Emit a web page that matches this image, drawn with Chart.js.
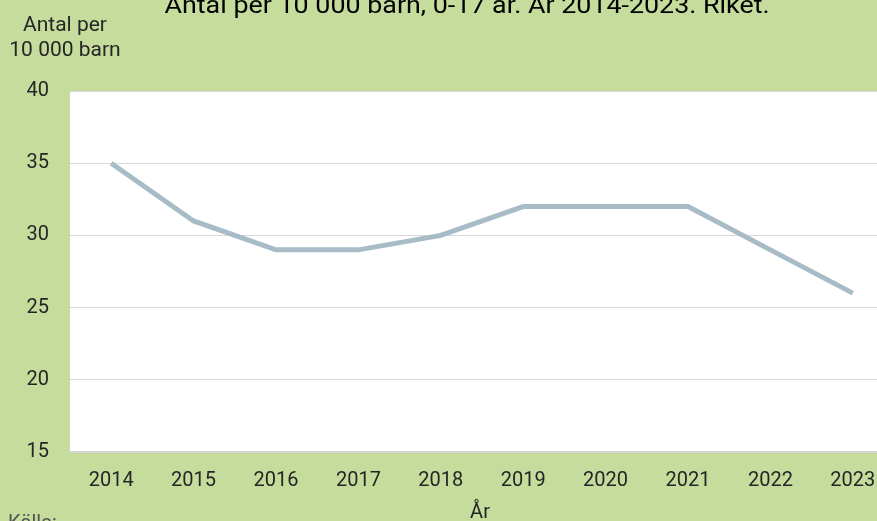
<!DOCTYPE html>
<html>
<head>
<meta charset="utf-8">
<script src="https://cdn.jsdelivr.net/npm/chart.js@4.4.1/dist/chart.umd.min.js"></script>
<style>
  html, body { margin: 0; padding: 0; overflow: hidden; background: #c5dc9c; }
  #wrap { position: absolute; left: 0; top: 0; width: 934px; height: 521px; }
</style>
</head>
<body>
<div id="wrap"><canvas id="c" width="934" height="521"></canvas></div>
<script>
const categories = ['2014','2015','2016','2017','2018','2019','2020','2021','2022','2023'];
const values = [35, 31, 29, 29, 30, 32, 32, 32, 29, 26];
const yTicks = [15, 20, 25, 30, 35, 40];
const titleText = 'Antal per 10 000 barn, 0-17 år. År 2014-2023. Riket.';
const yTitleLines = ['Antal per', '10 000 barn'];
const xTitleText = 'År';
const sourceText = 'Källa:';

const FONT = 'Roboto, "Noto Sans", sans-serif';

const decor = {
  id: 'decor',
  beforeDraw(chart) {
    const { ctx, chartArea: a } = chart;
    ctx.save();
    ctx.fillStyle = '#ffffff';
    ctx.fillRect(a.left, a.top, a.right - a.left, a.bottom - a.top);
    ctx.restore();
  },
  afterDraw(chart) {
    const { ctx } = chart;
    ctx.save();
    ctx.fillStyle = '#000000';
    ctx.font = '23px ' + FONT;
    ctx.textBaseline = 'alphabetic';
    const w = ctx.measureText(titleText).width;
    const sx = 605 / w;
    ctx.translate(467, 13);
    ctx.scale(sx, 1);
    ctx.textAlign = 'center';
    ctx.fillText(titleText, 0, 0);
    ctx.restore();

    ctx.save();
    ctx.fillStyle = '#262626';
    ctx.font = '21px ' + FONT;
    ctx.textAlign = 'center';
    ctx.textBaseline = 'alphabetic';
    ctx.fillText(yTitleLines[0], 65, 31);
    ctx.fillText(yTitleLines[1], 65, 56);
    ctx.font = '20px ' + FONT;
    ctx.fillText(xTitleText, 480, 518);
    ctx.textAlign = 'left';
    ctx.fillStyle = '#555555';
    ctx.fillText(sourceText, 8, 529);
    ctx.restore();
  }
};

new Chart(document.getElementById('c'), {
  type: 'line',
  data: {
    labels: categories,
    datasets: [{
      data: values,
      borderColor: '#a7bcc6',
      borderWidth: 5,
      pointRadius: 0,
      pointHoverRadius: 0,
      tension: 0,
      fill: false
    }]
  },
  options: {
    responsive: false,
    animation: false,
    devicePixelRatio: 1,
    layout: { padding: { top: 91, right: 40, bottom: 0, left: 0 } },
    plugins: { legend: { display: false }, title: { display: false }, tooltip: { enabled: false } },
    scales: {
      x: {
        offset: true,
        afterFit(s) { s.height = 69; },
        grid: { display: false, drawTicks: false },
        border: { display: true, color: '#d4d4d4', width: 2 },
        ticks: { color: '#262626', font: { family: FONT, size: 20 }, padding: 17, maxRotation: 0, autoSkip: false }
      },
      y: {
        min: 15,
        max: 40,
        afterFit(s) { s.width = 70; },
        afterBuildTicks(s) { s.ticks = yTicks.map(v => ({ value: v })); },
        grid: { color: '#d9d9d9', lineWidth: 1, drawTicks: false },
        border: { display: false },
        ticks: { color: '#262626', font: { family: FONT, size: 20 }, padding: 21 }
      }
    }
  },
  plugins: [decor]
});
</script>
</body>
</html>
